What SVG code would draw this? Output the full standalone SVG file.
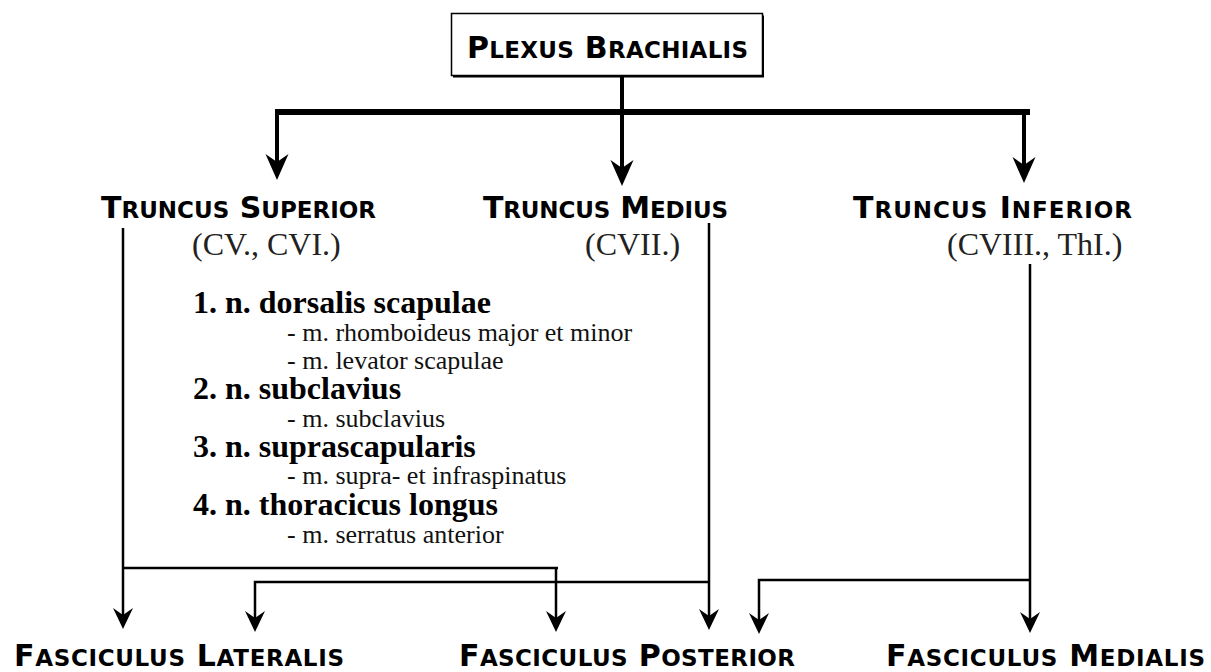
<svg xmlns="http://www.w3.org/2000/svg" width="1211" height="672" viewBox="0 0 1211 672">
<defs>
<style>
.cm{font-family:"DejaVu Sans",sans-serif;font-weight:bold;font-size:30px;fill:#000}
.sc{font-size:23px}
.par{font-family:"Liberation Serif",serif;font-size:32px;fill:#222}
.b{font-family:"Liberation Serif",serif;font-weight:bold;font-size:32px;fill:#000}
.r{font-family:"Liberation Serif",serif;font-size:26px;fill:#111}
.thick{fill:none;stroke:#000;stroke-width:4}
.thin{fill:none;stroke:#000;stroke-width:2.5}
</style>
<marker id="ahBig" markerUnits="userSpaceOnUse" orient="auto" refX="0" refY="0" markerWidth="40" markerHeight="40" overflow="visible">
<path d="M12,0 L-14,-11.5 L-6,0 L-14,11.5 Z" fill="#000"/>
</marker>
<marker id="ahSmall" markerUnits="userSpaceOnUse" orient="auto" refX="0" refY="0" markerWidth="40" markerHeight="40" overflow="visible">
<path d="M10,0 L-11,-10 L-4,0 L-11,10 Z" fill="#000"/>
</marker>
</defs>
<rect width="1211" height="672" fill="#fff"/>

<g id="connectors">
<rect x="275" y="109" width="755" height="6" fill="#000"/>
<path class="thick" d="M622,77 V174" marker-end="url(#ahBig)"/>
<path class="thick" d="M277,112 V168" marker-end="url(#ahBig)"/>
<path class="thick" d="M1024,112 V171" marker-end="url(#ahBig)"/>
<path class="thin" d="M123,228 V619" marker-end="url(#ahSmall)"/>
<path class="thin" d="M123,568 H558"/>
<path class="thin" d="M556,568 V622" marker-end="url(#ahSmall)"/>
<path class="thin" d="M709,582 H255 V622" marker-end="url(#ahSmall)"/>
<path class="thin" d="M709,223 V620" marker-end="url(#ahSmall)"/>
<path class="thin" d="M1030,580 H759 V624" marker-end="url(#ahSmall)"/>
<path class="thin" d="M1030,264 V623" marker-end="url(#ahSmall)"/>
</g>

<g id="node-plexus-brachialis">
<rect x="453" y="15.5" width="311" height="62" fill="#000"/>
<rect x="451.5" y="13.5" width="311" height="62" fill="#fff" stroke="#000" stroke-width="1.5"/>
<text class="cm" x="467" y="58" textLength="281" lengthAdjust="spacing">P<tspan class="sc">LEXUS</tspan> B<tspan class="sc">RACHIALIS</tspan></text>
</g>

<g id="node-truncus-superior">
<text class="cm" x="101" y="218" textLength="275" lengthAdjust="spacing">T<tspan class="sc">RUNCUS</tspan> S<tspan class="sc">UPERIOR</tspan></text>
<text class="par" x="192" y="255">(CV., CVI.)</text>
</g>

<g id="node-truncus-medius">
<text class="cm" x="483" y="218" textLength="245" lengthAdjust="spacing">T<tspan class="sc">RUNCUS</tspan> M<tspan class="sc">EDIUS</tspan></text>
<text class="par" x="585" y="255">(CVII.)</text>
</g>

<g id="node-truncus-inferior">
<text class="cm" x="853" y="218" textLength="279" lengthAdjust="spacing">T<tspan class="sc">RUNCUS</tspan> I<tspan class="sc">NFERIOR</tspan></text>
<text class="par" x="947" y="255">(CVIII., ThI.)</text>
</g>

<g id="branches-truncus-superior">
<text class="b" x="193" y="313">1. n. dorsalis scapulae</text>
<text class="r" x="287" y="341">- m. rhomboideus major et minor</text>
<text class="r" x="287" y="369">- m. levator scapulae</text>
<text class="b" x="193" y="399">2. n. subclavius</text>
<text class="r" x="287" y="427">- m. subclavius</text>
<text class="b" x="193" y="457">3. n. suprascapularis</text>
<text class="r" x="287" y="484">- m. supra- et infraspinatus</text>
<text class="b" x="193" y="515">4. n. thoracicus longus</text>
<text class="r" x="287" y="543">- m. serratus anterior</text>
</g>

<g id="node-fasciculus-lateralis">
<text class="cm" x="14" y="666" textLength="330" lengthAdjust="spacing">F<tspan class="sc">ASCICULUS</tspan> L<tspan class="sc">ATERALIS</tspan></text>
</g>
<g id="node-fasciculus-posterior">
<text class="cm" x="459" y="666" textLength="336" lengthAdjust="spacing">F<tspan class="sc">ASCICULUS</tspan> P<tspan class="sc">OSTERIOR</tspan></text>
</g>
<g id="node-fasciculus-medialis">
<text class="cm" x="886" y="666" textLength="319" lengthAdjust="spacing">F<tspan class="sc">ASCICULUS</tspan> M<tspan class="sc">EDIALIS</tspan></text>
</g>
</svg>
